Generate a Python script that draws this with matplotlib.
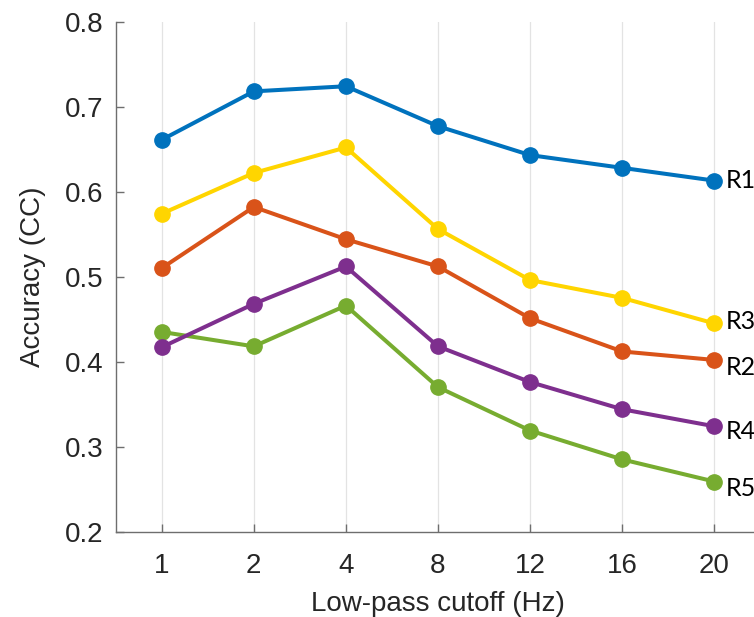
import numpy as np
import matplotlib
matplotlib.use("Agg")
import matplotlib.pyplot as plt

cutoffs = ["1", "2", "4", "8", "12", "16", "20"]

r1 = [0.661, 0.718, 0.724, 0.677, 0.643, 0.628, 0.613]
r2 = [0.510, 0.582, 0.544, 0.512, 0.451, 0.412, 0.402]
r3 = [0.574, 0.622, 0.652, 0.556, 0.496, 0.475, 0.445]
r4 = [0.417, 0.468, 0.512, 0.418, 0.376, 0.344, 0.324]
r5 = [0.435, 0.418, 0.466, 0.370, 0.319, 0.285, 0.259]

names = ["R1", "R2", "R3", "R4", "R5"]
series = [r1, r2, r3, r4, r5]
colors = ["#0072BD", "#D95319", "#FFD500", "#7E2F8E", "#77AC30"]
# small vertical nudges (px) for the end labels, as in the original
label_dy = [0, -8, 2, -5, -7]

plt.rcParams["font.family"] = ["Liberation Sans", "DejaVu Sans"]

fig = plt.figure(figsize=(7.54, 6.17), dpi=100)
ax = fig.add_axes([0.1534, 0.1383, 0.855, 0.8266])

x = np.arange(1, len(cutoffs) + 1)

# draw R5 first so R4 sits on top where they overlap
for name, vals, c, dy in reversed(list(zip(names, series, colors, label_dy))):
    ax.plot(x, vals, color=c, lw=2.9, marker="o", ms=11, clip_on=False)
    ax.annotate(name, xy=(x[-1], vals[-1]), xytext=(11, dy),
                textcoords="offset pixels", va="center", ha="left",
                fontsize=18, family=["Lato", "DejaVu Sans"],
                color="black", annotation_clip=False)

ax.set_xlim(0.5, 7.5)
ax.set_ylim(0.2, 0.8)
ax.set_xticks(x)
ax.set_xticklabels(cutoffs)
ax.set_yticks(np.arange(0.2, 0.81, 0.1))
ax.set_yticklabels(["0.2", "0.3", "0.4", "0.5", "0.6", "0.7", "0.8"])

ax.grid(axis="x", color="#e3e3e3", lw=0.9)
ax.set_axisbelow(True)
for s in ["top", "right"]:
    ax.spines[s].set_visible(False)
for s in ["left", "bottom"]:
    ax.spines[s].set_color("#6e6e6e")
    ax.spines[s].set_linewidth(1.0)

ax.tick_params(direction="in", length=6, width=1, color="#6e6e6e",
               labelsize=20, labelcolor="#262626")
ax.tick_params(axis="x", pad=15)
ax.tick_params(axis="y", pad=9)

ax.set_xlabel("Low-pass cutoff (Hz)", fontsize=20, color="#262626", labelpad=9)
ax.set_ylabel("Accuracy (CC)", fontsize=20, color="#262626", labelpad=13)

fig.savefig("out.png", dpi=100)
